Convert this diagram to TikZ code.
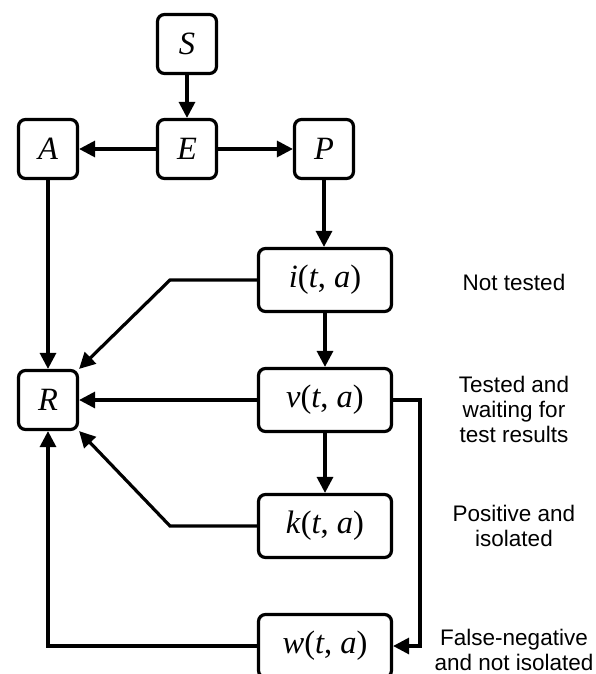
\documentclass[tikz,border=0pt]{standalone}
\usepackage{fontspec}
\setmainfont{Liberation Serif}
\newfontfamily\labelfont{Liberation Sans}
\usetikzlibrary{arrows.meta}
\begin{document}
\begin{tikzpicture}[x=1pt,y=-1pt,line width=3.2pt,
  box/.style={draw,rounded corners=7pt,inner sep=0pt,font=\fontsize{32.5}{32.5}\selectfont},
  small/.style={box,minimum width=59pt,minimum height=59pt},
  wide/.style={box,minimum width=133pt,minimum height=63pt},
  arr/.style={-{Triangle[length=16pt,width=16pt]}},
  lab/.style={align=center,font=\labelfont\fontsize{22.5}{25}\selectfont}]
\useasboundingbox (0,0) rectangle (596,674);
\node[small] (S) at (187,44) {\textit{S}};
\node[small] (E) at (187,149) {\textit{E}};
\node[small] (A) at (48,149) {\textit{A}};
\node[small] (P) at (324,149) {\textit{P}};
\node[small] (R) at (48,400) {\textit{R}};
\node[wide] (i) at (325,280) {\textit{i}(\textit{t}, \textit{a})};
\node[wide] (v) at (325,400) {\textit{v}(\textit{t}, \textit{a})};
\node[wide] (k) at (325,526) {\textit{k}(\textit{t}, \textit{a})};
\node[wide] (w) at (325,646) {\textit{w}(\textit{t}, \textit{a})};
\coordinate (ib) at (170,280);
\coordinate (kb) at (170,526);
\coordinate (vb) at (420,400);
\draw[arr] (S.south) -- (E.north);
\draw[arr] (E.west) -- (A.east);
\draw[arr] (E.east) -- (P.west);
\draw[arr] (P.south) -- (P.south |- i.north);
\draw[arr] (A.south) -- (R.north);
\draw[arr] (i.west) -- (ib) -- (R.north east);
\draw[arr] (v.west) -- (R.east);
\draw[arr] (i.south) -- (v.north);
\draw[arr] (v.south) -- (k.north);
\draw[arr] (k.west) -- (kb) -- (R.south east);
\draw[arr] (w.west) -| (R.south);
\draw[arr] (v.east) -- (vb) |- (w.east);
\node[lab] (l1) at (514,282) {Not tested};
\node[lab] (l2) at (514,409) {Tested and\\waiting for\\test results};
\node[lab] (l3) at (514,526) {Positive and\\isolated};
\node[lab] (l4) at (514,650) {False-negative\\and not isolated};
\end{tikzpicture}
\end{document}
